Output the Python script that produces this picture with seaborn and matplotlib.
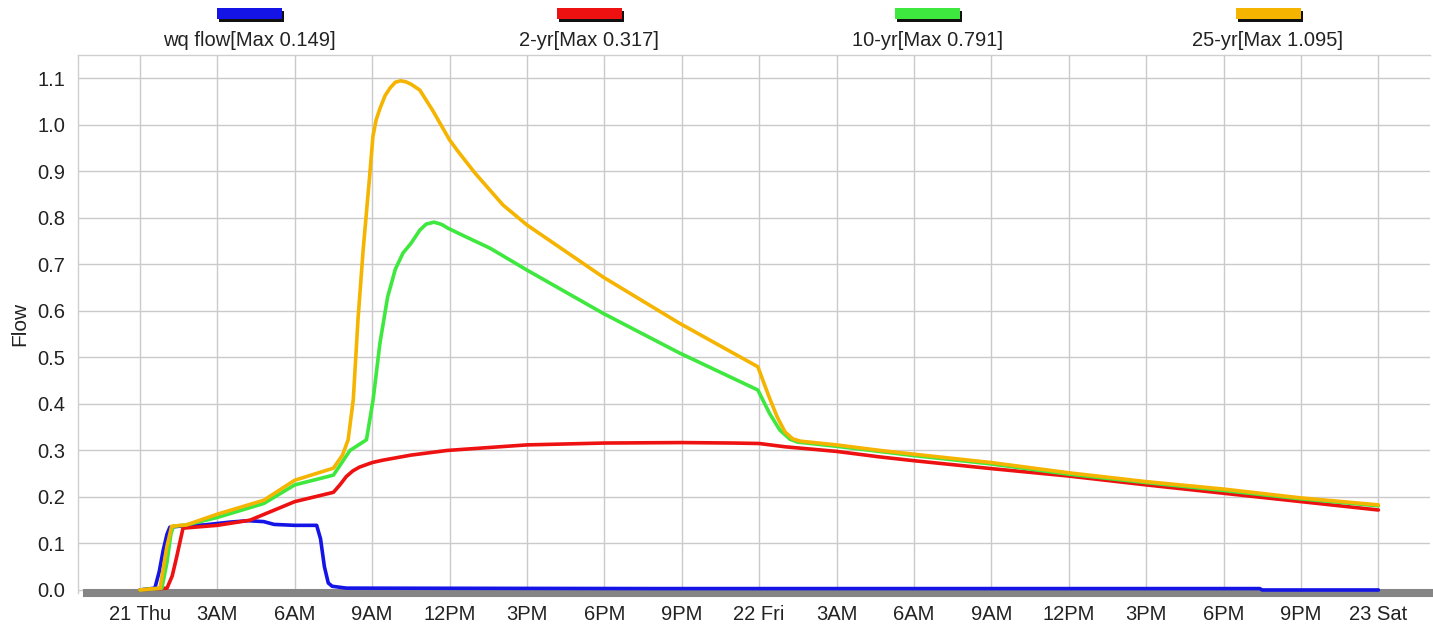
import numpy as np
import pandas as pd
import matplotlib.pyplot as plt
import seaborn as sns
from matplotlib.patches import Rectangle
from matplotlib.ticker import MultipleLocator

# hours since 21 Thu 00:00 and flow values
wq_hours = [0, 0.58, 0.75, 0.9, 1.05, 1.16, 1.5, 2.5, 3.5, 4.2, 4.8, 5.2, 6.0, 6.85, 7.0, 7.15, 7.3, 7.45, 8.0, 20, 43.4, 43.5, 48]
wq_flow = [0, 0.004, 0.04, 0.085, 0.12, 0.135, 0.137, 0.14, 0.146, 0.149, 0.147, 0.141, 0.139, 0.139, 0.11, 0.05, 0.015, 0.008, 0.004, 0.003, 0.003, 0.0, 0.0]

yr2_hours = [0, 1.05, 1.25, 1.42, 1.67, 3.0, 4.26, 6.0, 7.5, 7.75, 8.0, 8.25, 8.5, 9.0, 9.4, 10.5, 11.9, 13.95, 15, 18, 21, 23, 24, 25, 27, 28.7, 30, 33, 36, 39, 42, 45, 48]
yr2_flow = [0, 0.004, 0.03, 0.07, 0.133, 0.139, 0.15, 0.19, 0.21, 0.226, 0.244, 0.256, 0.264, 0.274, 0.279, 0.29, 0.30, 0.308, 0.312, 0.316, 0.317, 0.316, 0.315, 0.308, 0.298, 0.286, 0.278, 0.261, 0.245, 0.226, 0.208, 0.19, 0.172]

yr10_hours = [0, 0.85, 1.05, 1.2, 1.3, 1.8, 3.0, 4.8, 6.0, 7.5, 8.14, 8.78, 9.04, 9.3, 9.6, 9.9, 10.2, 10.5, 10.85, 11.1, 11.4, 11.7, 11.94, 12.5, 13.57, 15, 17.95, 20.9, 23.95, 24.4, 24.8, 25.2, 25.5, 27, 30, 33, 36, 39, 42, 45, 48]
yr10_flow = [0, 0.004, 0.06, 0.12, 0.137, 0.14, 0.156, 0.186, 0.226, 0.247, 0.30, 0.323, 0.41, 0.53, 0.63, 0.69, 0.725, 0.745, 0.774, 0.787, 0.791, 0.786, 0.778, 0.763, 0.735, 0.688, 0.595, 0.51, 0.43, 0.38, 0.344, 0.324, 0.318, 0.309, 0.289, 0.271, 0.249, 0.231, 0.214, 0.196, 0.181]

yr25_hours = [0, 0.78, 1.04, 1.23, 1.8, 3.0, 4.8, 6.0, 7.5, 7.85, 8.07, 8.27, 8.45, 8.65, 8.9, 9.03, 9.15, 9.3, 9.5, 9.7, 9.9, 10.1, 10.3, 10.5, 10.85, 11.36, 12.0, 12.29, 12.98, 14.07, 15, 17.95, 20.9, 23.95, 24.15, 24.4, 24.7, 25.0, 25.3, 25.6, 27, 28.7, 30, 33, 36, 39, 42, 45, 48]
yr25_flow = [0, 0.004, 0.092, 0.137, 0.14, 0.163, 0.193, 0.236, 0.262, 0.29, 0.323, 0.41, 0.58, 0.73, 0.888, 0.975, 1.01, 1.035, 1.063, 1.08, 1.092, 1.095, 1.093, 1.088, 1.075, 1.03, 0.968, 0.946, 0.897, 0.828, 0.785, 0.673, 0.574, 0.48, 0.45, 0.413, 0.372, 0.34, 0.325, 0.32, 0.312, 0.30, 0.292, 0.274, 0.252, 0.233, 0.217, 0.198, 0.183]

series_names = ["wq flow", "2-yr", "10-yr", "25-yr"]
series_colors = ["#1414e6", "#ee1111", "#3ee83e", "#f5b400"]
series_max = ["0.149", "0.317", "0.791", "1.095"]

tick_hours = list(range(0, 49, 3))
tick_labels = ["21 Thu", "3AM", "6AM", "9AM", "12PM", "3PM", "6PM", "9PM",
               "22 Fri", "3AM", "6AM", "9AM", "12PM", "3PM", "6PM", "9PM", "23 Sat"]

frames = []
for name, hrs, vals in zip(series_names,
                           [wq_hours, yr2_hours, yr10_hours, yr25_hours],
                           [wq_flow, yr2_flow, yr10_flow, yr25_flow]):
    frames.append(pd.DataFrame({"hour": hrs, "flow": vals, "series": name}))
df = pd.concat(frames, ignore_index=True)

sns.set_style("white")
plt.rcParams['font.family'] = ['Liberation Sans', 'DejaVu Sans']

fig = plt.figure(figsize=(14.33, 6.29), dpi=100)
ax = fig.add_axes([78 / 1433, 1 - 593 / 629, (1430 - 78) / 1433, (593 - 55) / 629])

for i, (name, color) in enumerate(zip(series_names, series_colors)):
    sub = df[df["series"] == name]
    sns.lineplot(data=sub, x="hour", y="flow", color=color, linewidth=2.6,
                 estimator=None, sort=False, ax=ax, zorder=3 + i, legend=False)

ax.set_xlim(-2.4, 50.0)
ax.set_ylim(-0.0065, 1.1505)

ax.set_xticks(tick_hours)
ax.set_xticklabels(tick_labels)
ax.xaxis.set_minor_locator(MultipleLocator(1))
ax.set_yticks(np.round(np.arange(0, 1.15, 0.1), 1))
ax.set_yticklabels([f"{v:.1f}" for v in np.arange(0, 1.15, 0.1)])
ax.yaxis.set_minor_locator(MultipleLocator(0.02))

ax.grid(True, which="major", color="#cacaca", linewidth=1.0, zorder=0)
ax.set_axisbelow(True)

ax.tick_params(axis="x", which="major", length=0, pad=9, labelsize=14.5, labelcolor="#222222")
ax.tick_params(axis="x", which="minor", direction="in", length=9, color="#c8c8c8", width=1)
ax.tick_params(axis="y", which="major", direction="out", length=7, pad=2, color="#cfcfcf",
               labelsize=14.5, labelcolor="#222222")
ax.tick_params(axis="y", which="minor", direction="in", length=8, color="#c8c8c8", width=1)

ax.set_xlabel("")
ax.set_ylabel("Flow", fontsize=15, color="#222222", labelpad=6)

for side in ["left", "top"]:
    ax.spines[side].set_color("#cfcfcf")
    ax.spines[side].set_linewidth(1)
ax.spines["right"].set_visible(False)
ax.spines["bottom"].set_color("#858585")
ax.spines["bottom"].set_linewidth(5.8)
ax.spines["bottom"].set_bounds(-2.05, 50.0)
ax.spines["bottom"].set_zorder(2)

# legend: colour swatch above each label, as in the source chart
centers = [249, 589, 927, 1268]
for cx, name, color, mx in zip(centers, series_names, series_colors, series_max):
    w, h = 65 / 1433, 11 / 629
    x0 = (cx - 32) / 1433
    y0 = 1 - 19 / 629
    fig.add_artist(Rectangle((x0 + 2 / 1433, y0 - 3 / 629), w, h, transform=fig.transFigure,
                             facecolor="#111111", edgecolor="none"))
    fig.add_artist(Rectangle((x0, y0), w, h, transform=fig.transFigure,
                             facecolor=color, edgecolor="none"))
    fig.text(cx / 1433, 1 - 41 / 629, f"{name}[Max {mx}]", ha="center", va="center",
             fontsize=14.5, color="#222222")

fig.savefig("out.png", dpi=100)
